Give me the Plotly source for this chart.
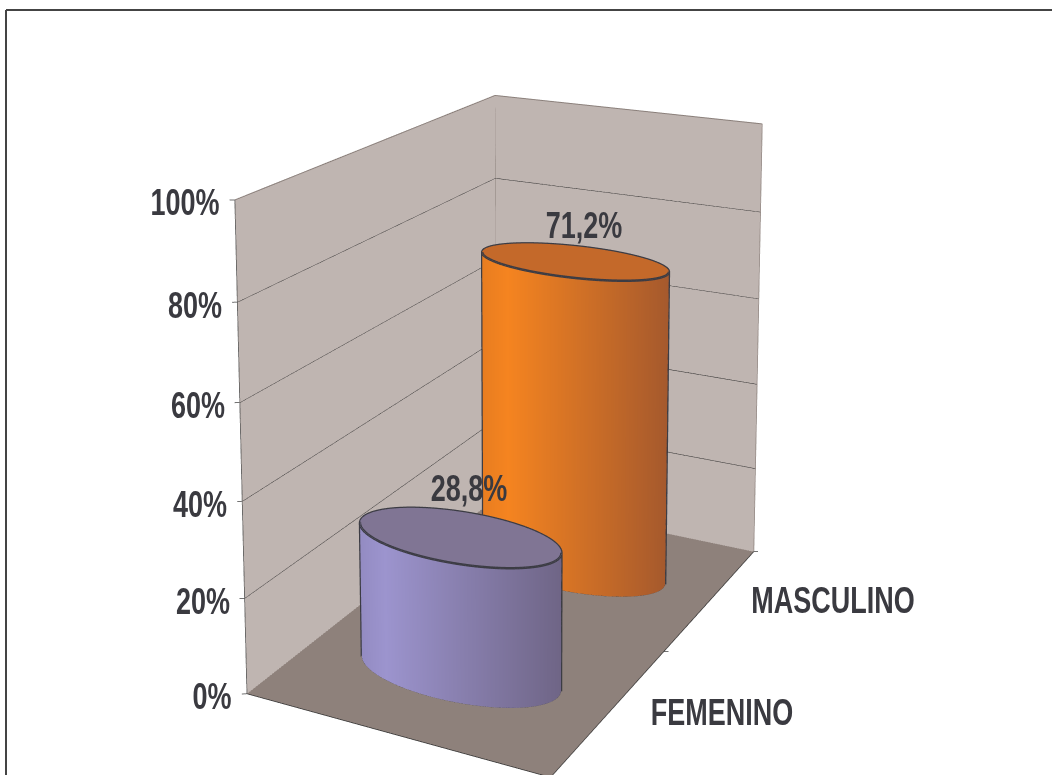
import numpy as np
import plotly.graph_objects as go

categories = ["FEMENINO", "MASCULINO"]
values = [28.8, 71.2]
value_labels = ["28,8%", "71,2%"]
z_ticks = [0, 20, 40, 60, 80, 100]
z_tick_labels = ["0%", "20%", "40%", "60%", "80%", "100%"]
value_label_lift = [48, 36]

# camera fitted to the reference
eye = np.array([1.1062, -2.1695, 0.9100])
center = np.array([-0.1423, 0.3008, 0.4548])
aspect = np.array([0.4094, 0.6496, 0.6161])
H = 1646
off = 822
TEXT_SQUEEZE = 0.75
FONT_SIZE = 36

TXT = "#3a3a40"
FONT = dict(family="Liberation Sans", size=FONT_SIZE, color=TXT, weight="bold")
flat = dict(ambient=1, diffuse=0, specular=0, fresnel=0, roughness=1)
fig = go.Figure()


def plane(x, y, z, col):
    fig.add_trace(go.Mesh3d(x=x, y=y, z=z, i=[0, 0], j=[1, 2], k=[2, 3], color=col, lighting=flat, hoverinfo="skip", flatshading=True))


def line(x, y, z, col, w):
    fig.add_trace(go.Scatter3d(x=x, y=y, z=z, mode="lines", line=dict(color=col, width=w), showlegend=False, hoverinfo="skip"))


plane([0, 1, 1, 0], [0, 0, 2, 2], [0, 0, 0, 0], "#8e817b")
plane([0, 0, 0, 0], [0, 2, 2, 0], [0, 0, 100, 100], "#bfb5b1")
plane([0, 1, 1, 0], [2, 2, 2, 2], [0, 0, 100, 100], "#bfb5b1")
for t in z_ticks[1:-1]:
    line([0, 0, 1], [0, 2, 2], [t, t, t], "#2e2e2e", 1.5)
line([0, 0, 1], [0, 2, 2], [100, 100, 100], "#8a7f7a", 2)
line([0, 0], [0, 0], [0, 100], "#444", 1.5)
line([0, 0], [2, 2], [0, 100], "#8a7f7a", 1.5)
line([1, 1], [2, 2], [0, 100], "#8a7f7a", 1.5)
line([0, 1, 1], [0, 0, 2], [0, 0, 0], "#2e2e2e", 1.5)
for t in z_ticks:
    line([0, -0.0124], [0, -0.0101], [t, t], "#444", 1.5)
for yy in [0, 1, 2]:
    line([1, 1.0124], [yy, yy + 0.0101], [0, 0], "#444", 1.5)

rx, ry = 0.33, 0.21
th = np.linspace(0, 2 * np.pi, 181)
scales = [
    [[0, "#938bc2"], [0.14, "#9c94ce"], [1, "#6f6586"]],
    [[0, "#e87d20"], [0.14, "#f58420"], [1, "#a5592d"]],
]
tops = ["#807594", "#c4692a"]
fwd = center - eye
right = np.cross(fwd, [0, 0, 1.0])
right /= np.linalg.norm(right)
EDGE = "#3c3c44"
for k, (cat, v) in enumerate(zip(categories, values)):
    cx, cy = 0.5, k + 0.5
    px = (cx + rx * np.cos(th) - 0.5) * aspect[0]
    py_ = (cy + ry * np.sin(th) - 1) / 2 * aspect[1]
    # colour follows the position across the visible width of the cylinder
    sweep = (px - (cx - 0.5) * aspect[0]) * right[0] + (py_ - (cy - 1) / 2 * aspect[1]) * right[1]
    s = (sweep / np.abs(sweep).max() + 1) / 2
    X = np.outer(np.ones(2), cx + rx * np.cos(th))
    Y = np.outer(np.ones(2), cy + ry * np.sin(th))
    Z = np.outer([0, v], np.ones(th.size))
    fig.add_trace(go.Surface(x=X, y=Y, z=Z, surfacecolor=np.outer(np.ones(2), s), cmin=0, cmax=1,
                             colorscale=scales[k], showscale=False, lighting=flat, hoverinfo="skip"))
    R = np.array([0, 1.0])
    fig.add_trace(go.Surface(x=cx + rx * np.outer(R, np.cos(th)), y=cy + ry * np.outer(R, np.sin(th)), z=np.full((2, th.size), v),
                             surfacecolor=np.zeros((2, th.size)), cmin=0, cmax=1, colorscale=[[0, tops[k]], [1, tops[k]]],
                             showscale=False, lighting=flat, hoverinfo="skip"))
    line(cx + rx * np.cos(th), cy + ry * np.sin(th), np.full(th.size, v), EDGE, 5)
    line(cx + rx * np.cos(th), cy + ry * np.sin(th), np.zeros(th.size), EDGE, 5)
    # outline where the side turns away from the eye
    nx, ny = np.cos(th) / (rx * aspect[0]), np.sin(th) / (ry * aspect[1] / 2)
    g = nx * (px - eye[0]) + ny * (py_ - eye[1])
    for i in np.nonzero(np.sign(g[:-1]) != np.sign(g[1:]))[0]:
        line([cx + rx * np.cos(th[i])] * 2, [cy + ry * np.sin(th[i])] * 2, [0, v], EDGE, 5)

W_CHAR = dict(zip("0123456789%,FEMNIOASCUL", [.556] * 10 + [.889, .278, .611, .667, .833, .722, .278, .778, .722, .667, .722, .722, .611]))


def width(t):
    return sum(W_CHAR[c] for c in t) * FONT_SIZE * TEXT_SQUEEZE


notes = []
for t, lab in zip(z_ticks, z_tick_labels):
    notes.append(dict(x=0, y=0, z=t, text=lab, showarrow=False, xanchor="center", xshift=-15 - width(lab) / 2, yshift=-3, font=FONT))
for k, cat in enumerate(categories):
    notes.append(dict(x=1, y=k + 0.5, z=0, text=cat, showarrow=False, xanchor="center", xshift=40 + width(cat) / 2, yshift=-2, font=FONT))
for k, lab in enumerate(value_labels):
    notes.append(dict(x=0.5, y=k + 0.5, z=values[k], text=lab, showarrow=False, xshift=10, yshift=value_label_lift[k], font=FONT))

axis = dict(visible=False)


def py(y):
    return 1 - (y + off) / H


fig.update_layout(
    width=1052, height=H, margin=dict(l=0, r=0, t=0, b=0), paper_bgcolor="white", showlegend=False,
    scene=dict(
        domain=dict(x=[0, 1], y=[0, 1]),
        xaxis=dict(axis, range=[-0.1, 1.1]), yaxis=dict(axis, range=[-0.1, 2.1]), zaxis=dict(axis, range=[0, 100]),
        aspectmode="manual", aspectratio=dict(x=aspect[0] * 1.2, y=aspect[1] * 1.1, z=aspect[2]),
        camera=dict(eye=dict(x=eye[0], y=eye[1], z=eye[2]), center=dict(x=center[0], y=center[1], z=center[2]), up=dict(x=0, y=0, z=1)),
        annotations=notes,
    ),
    shapes=[
        dict(type="line", xref="paper", yref="paper", x0=6 / 1052, x1=1, y0=py(10), y1=py(10), line=dict(color="#444", width=2)),
        dict(type="line", xref="paper", yref="paper", x0=6 / 1052, x1=6 / 1052, y0=py(10), y1=py(775), line=dict(color="#444", width=2)),
    ],
)
script = (
    "document.documentElement.style.overflow='hidden';document.body.style.margin='0';"
    "var gd=document.getElementById('{plot_id}');var w=gd.parentElement;"
    "w.style.height='775px';w.style.width='1052px';w.style.overflow='hidden';"
    f"gd.style.marginTop='{-off}px';"
    "var s=document.createElement('style');"
    f"s.textContent='.annotation-text{{transform-box:fill-box;transform-origin:center;transform:scaleX({TEXT_SQUEEZE})}}';"
    "document.head.appendChild(s);"
)
fig.write_html("out.html", post_script=script, config=dict(displayModeBar=False), include_plotlyjs=True)
